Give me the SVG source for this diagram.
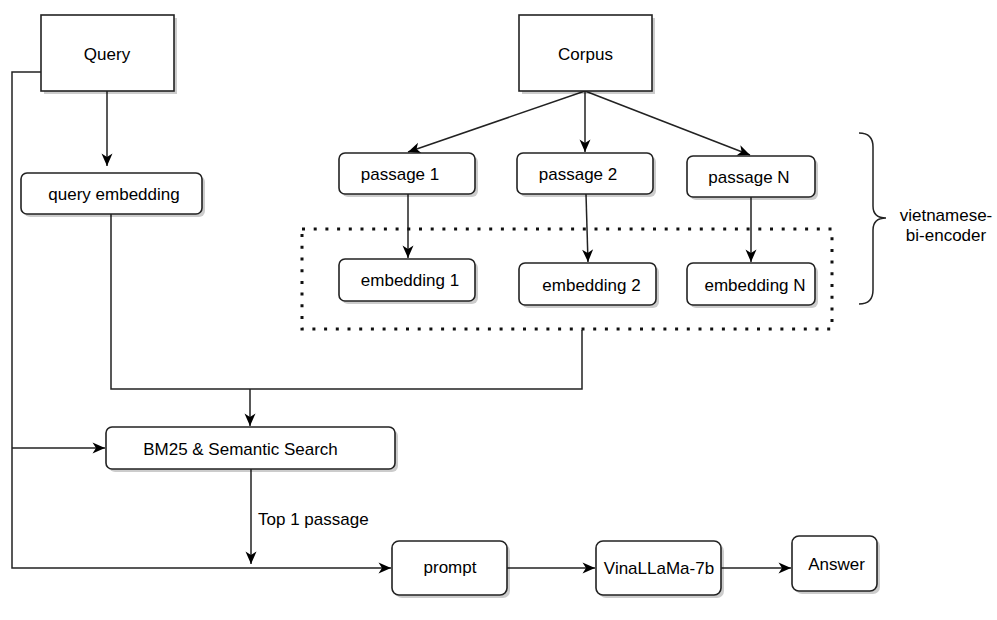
<svg xmlns="http://www.w3.org/2000/svg" width="997" height="620" viewBox="0 0 997 620">
<defs>
<marker id="arr" markerUnits="userSpaceOnUse" markerWidth="14" markerHeight="12" viewBox="0 0 14 12" refX="13" refY="6" orient="auto">
<path d="M0.5,0.5 L13,6 L0.5,11.5 L4,6 z" fill="#000"/>
</marker>
</defs>
<style>
.box{fill:#fff;stroke:#222;stroke-width:1.6}
.sh{fill:#000;fill-opacity:0.2;stroke:none}
.t{font-family:"Liberation Sans",Arial,sans-serif;font-size:17px;fill:#000}
.c{fill:none;stroke:#222;stroke-width:1.5}
.a{marker-end:url(#arr)}
</style>
<rect width="997" height="620" fill="#fff"/>
<g id="connectors">
<path class="c a" d="M41,72 L12,72 L12,568 L391,568"/>
<path class="c a" d="M12,448 L105,448"/>
<path class="c a" d="M107,91 L107,166"/>
<path class="c" d="M111,214 L111,389 L582,389 L582,330"/>
<path class="c a" d="M250,389 L250,426"/>
<path class="c a" d="M251,469 L251,564"/>
<path class="c a" d="M507,568 L595,568"/>
<path class="c a" d="M721,568 L791,568"/>
<path class="c a" d="M585,91 L408,152"/>
<path class="c a" d="M585,91 L585,152"/>
<path class="c a" d="M585,91 L750,155"/>
<path class="c a" d="M408,194 L408,258"/>
<path class="c a" d="M586,194 L588,262"/>
<path class="c a" d="M751,197 L751,262"/>
<text class="t" x="258" y="525">Top 1 passage</text>
</g>
<g id="encoder-group">
<rect x="302" y="229" width="530" height="100" fill="none" stroke="#111" stroke-width="3" stroke-dasharray="3 8.7"/>
</g>
<g id="brace">
<path class="c" d="M859,133 Q873,133 873,147 L873,206 Q873,218 886,218 Q873,218 873,230 L873,290 Q873,304 859,304"/>
<text class="t" x="946" y="221" text-anchor="middle">vietnamese-</text>
<text class="t" x="946" y="241" text-anchor="middle">bi-encoder</text>
</g>
<g id="query">
<rect class="sh" x="44" y="18" width="133" height="76"/>
<rect class="box" x="41" y="15" width="133" height="76"/>
<text class="t" x="107" y="60" text-anchor="middle">Query</text>
</g>
<g id="corpus">
<rect class="sh" x="522" y="18" width="133" height="76"/>
<rect class="box" x="519" y="15" width="133" height="76"/>
<text class="t" x="585.5" y="60" text-anchor="middle">Corpus</text>
</g>
<g id="query-embedding">
<rect class="sh" x="24" y="176" width="181" height="41" rx="6"/>
<rect class="box" x="21" y="173" width="181" height="41" rx="6"/>
<text class="t" x="114" y="200" text-anchor="middle">query embedding</text>
</g>
<g id="passage-1">
<rect class="sh" x="342" y="156" width="136" height="41" rx="6"/>
<rect class="box" x="339" y="153" width="136" height="41" rx="6"/>
<text class="t" x="400" y="180" text-anchor="middle">passage 1</text>
</g>
<g id="passage-2">
<rect class="sh" x="520" y="156" width="136" height="41" rx="6"/>
<rect class="box" x="517" y="153" width="136" height="41" rx="6"/>
<text class="t" x="578" y="180" text-anchor="middle">passage 2</text>
</g>
<g id="passage-n">
<rect class="sh" x="690" y="159" width="128" height="41" rx="6"/>
<rect class="box" x="687" y="156" width="128" height="41" rx="6"/>
<text class="t" x="749" y="183" text-anchor="middle">passage N</text>
</g>
<g id="embedding-1">
<rect class="sh" x="342" y="262" width="136" height="42" rx="6"/>
<rect class="box" x="339" y="259" width="136" height="42" rx="6"/>
<text class="t" x="410" y="286" text-anchor="middle">embedding 1</text>
</g>
<g id="embedding-2">
<rect class="sh" x="522" y="266" width="137" height="42" rx="6"/>
<rect class="box" x="519" y="263" width="137" height="42" rx="6"/>
<text class="t" x="591.5" y="291" text-anchor="middle">embedding 2</text>
</g>
<g id="embedding-n">
<rect class="sh" x="690" y="266" width="128" height="42" rx="6"/>
<rect class="box" x="687" y="263" width="128" height="42" rx="6"/>
<text class="t" x="755" y="291" text-anchor="middle">embedding N</text>
</g>
<g id="search">
<rect class="sh" x="109" y="430" width="289" height="42" rx="6"/>
<rect class="box" x="106" y="427" width="289" height="42" rx="6"/>
<text class="t" x="240.5" y="455" text-anchor="middle">BM25 &amp; Semantic Search</text>
</g>
<g id="prompt">
<rect class="sh" x="395" y="544" width="115" height="54" rx="7"/>
<rect class="box" x="392" y="541" width="115" height="54" rx="7"/>
<text class="t" x="450" y="573" text-anchor="middle">prompt</text>
</g>
<g id="vinallama">
<rect class="sh" x="599" y="544" width="125" height="54" rx="7"/>
<rect class="box" x="596" y="541" width="125" height="54" rx="7"/>
<text class="t" x="659" y="574" text-anchor="middle">VinaLLaMa-7b</text>
</g>
<g id="answer">
<rect class="sh" x="795" y="539" width="85" height="55" rx="7"/>
<rect class="box" x="792" y="536" width="85" height="55" rx="7"/>
<text class="t" x="836.5" y="570" text-anchor="middle">Answer</text>
</g>
</svg>
